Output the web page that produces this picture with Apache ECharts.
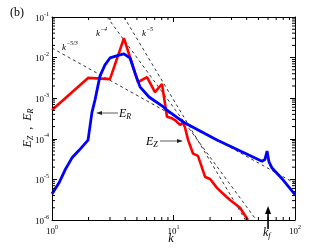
<!DOCTYPE html>
<html><head><meta charset="utf-8">
<script src="https://cdn.jsdelivr.net/npm/echarts@6/dist/echarts.min.js"></script>
<style>html,body{margin:0;padding:0;background:#fff}#c{width:332px;height:249px}</style>
</head><body><div id="c"></div>
<script>
// E_Z (red)
const kZ = [1, 1.98, 3.0, 3.91, 5.1, 6.05, 7.04, 8.04, 8.84, 9.72, 10.3, 11.3, 12.0, 12.4, 13.2, 14.5, 15.9, 18.2, 20.0, 22.8, 25.1, 29.2, 35.3, 41.0];
const EZ = [5.1e-4, 3.16e-3, 2.95e-3, 3.0e-2, 2.5e-3, 3.3e-3, 1.41e-3, 2.24e-3, 3.5e-4, 3.2e-4, 2.9e-4, 2.2e-4, 2.5e-4, 1.95e-4, 9.3e-5, 4.3e-5, 3.8e-5, 1.15e-5, 1.02e-5, 6.2e-6, 4.7e-6, 3.1e-6, 2.0e-6, 1.0e-6];
// E_R (blue)
const kR = [1, 1.14, 1.28, 1.46, 1.67, 1.98, 2.13, 2.26, 2.48, 2.73, 3.0, 3.56, 3.91, 4.39, 4.82, 5.30, 6.29, 8.04, 8.84, 12.0, 22.8, 53.5, 56.6, 58.9, 61.1, 64.7, 79.7, 100];
const ER = [4.4e-6, 8.1e-6, 1.7e-5, 3.4e-5, 5.2e-5, 9.3e-5, 4.4e-4, 9.1e-4, 3.5e-3, 6.6e-3, 9.8e-3, 1.15e-2, 1.23e-2, 9.8e-3, 4.2e-3, 1.9e-3, 1.07e-3, 6.5e-4, 5.1e-4, 2.6e-4, 9.3e-5, 2.8e-5, 3.1e-5, 5.0e-5, 2.7e-5, 1.9e-5, 9.8e-6, 4.2e-6];
// reference slopes
const ref53K = [1, 100], ref53E = [1.72e-2, 8.0e-6];
const ref4K = [2.84, 48], ref4E = [1e-1, 1e-6];
const ref5K = [3.91, 39.1], ref5E = [1e-1, 1e-6];
// minor ticks
const xMinor = [2,3,4,5,6,7,8,9,20,30,40,50,60,70,80,90];
const yMinor = [];
[-6,-5,-4,-3,-2].forEach(e => { for (let m = 2; m <= 9; m++) yMinor.push(m * Math.pow(10, e)); });
const kf = 60;

const FONT = 'Liberation Serif';
const zip = (a, b) => a.map((v, i) => [v, b[i]]);
const supFmt = v => '{b|10}{s|' + Math.round(Math.log10(v)) + '}';
const tickRich = { b: { fontSize: 9, fontFamily: FONT, color: '#000', verticalAlign: 'bottom', lineHeight: 12 }, s: { fontSize: 6, fontFamily: FONT, color: '#000', verticalAlign: 'top', lineHeight: 12 } };

const chart = echarts.init(document.getElementById('c'), null, { renderer: 'canvas' });
const axisCommon = { axisLine: { lineStyle: { color: '#000', width: 1 } }, axisTick: { inside: true, length: 5, lineStyle: { color: '#000' } }, splitLine: { show: false } };
const dash = { color: '#000', width: 0.8, type: [3, 3] };
chart.setOption({
  animation: false,
  grid: { left: 52, right: 37, top: 17, bottom: 29 },
  xAxis: [
    Object.assign({ type: 'log', min: 1, max: 100, position: 'bottom', axisLabel: { formatter: supFmt, rich: tickRich, margin: 4 } }, axisCommon),
    Object.assign({ type: 'log', min: 1, max: 100, position: 'top', axisLabel: { show: false } }, axisCommon)
  ],
  yAxis: [
    Object.assign({ type: 'log', min: 1e-6, max: 1e-1, position: 'left', axisLabel: { formatter: supFmt, rich: tickRich, margin: 3 } }, axisCommon),
    Object.assign({ type: 'log', min: 1e-6, max: 1e-1, position: 'right', axisLabel: { show: false } }, axisCommon)
  ],
  series: [
    { type: 'line', data: zip(ref53K, ref53E), symbol: 'none', lineStyle: dash, z: 1 },
    { type: 'line', data: zip(ref4K, ref4E), symbol: 'none', lineStyle: dash, z: 1 },
    { type: 'line', data: zip(ref5K, ref5E), symbol: 'none', lineStyle: dash, z: 1 },
    { type: 'line', data: zip(kZ, EZ), symbol: 'none', lineStyle: { color: '#ff0000', width: 2.6 }, z: 3 },
    { type: 'line', data: zip(kR, ER), symbol: 'none', lineStyle: { color: '#0000ff', width: 2.8 }, z: 4 },
    {
      type: 'custom', silent: true, clip: false, z: 5,
      data: xMinor.map(v => [v, 1e-6]),
      renderItem: (p, api) => {
        const b = api.coord([api.value(0), 1e-6]);
        const t = api.coord([api.value(0), 1e-1]);
        return { type: 'group', children: [
          { type: 'line', shape: { x1: b[0], y1: b[1], x2: b[0], y2: b[1] - 3 }, style: { stroke: '#000', lineWidth: 1 } },
          { type: 'line', shape: { x1: t[0], y1: t[1], x2: t[0], y2: t[1] + 3 }, style: { stroke: '#000', lineWidth: 1 } }
        ] };
      }
    },
    {
      type: 'custom', silent: true, clip: false, z: 5,
      data: yMinor.map(v => [1, v]),
      renderItem: (p, api) => {
        const l = api.coord([1, api.value(1)]);
        const r = api.coord([100, api.value(1)]);
        return { type: 'group', children: [
          { type: 'line', shape: { x1: l[0], y1: l[1], x2: l[0] + 3, y2: l[1] }, style: { stroke: '#000', lineWidth: 1 } },
          { type: 'line', shape: { x1: r[0], y1: r[1], x2: r[0] - 3, y2: r[1] }, style: { stroke: '#000', lineWidth: 1 } }
        ] };
      }
    }
  ]
});

const it = { fontFamily: FONT, fontStyle: 'italic', color: '#222' };
const richLbl = {
  i: Object.assign({ fontSize: 9, verticalAlign: 'bottom', lineHeight: 12 }, it),
  s: Object.assign({ fontSize: 6, verticalAlign: 'top', lineHeight: 12 }, it),
  I: Object.assign({ fontSize: 12, verticalAlign: 'middle', lineHeight: 14 }, it, { color: '#000' }),
  S: Object.assign({ fontSize: 8, verticalAlign: 'bottom', lineHeight: 14 }, it, { color: '#000' })
};
const txt = (x, y, text, extra) => Object.assign({ type: 'text', x: x, y: y, z: 10, style: Object.assign({ text: text, rich: richLbl, align: 'left', verticalAlign: 'middle' }, extra || {}) });
const kfPx = chart.convertToPixel({ xAxisIndex: 0 }, kf);
chart.setOption({
  graphic: [
    { type: 'text', x: 10, y: 13, style: { text: '(b)', fontFamily: FONT, fontSize: 12, fill: '#000', verticalAlign: 'middle' } },
    txt(62, 46, '{i|k}{s|−5/3}'),
    txt(96, 32, '{i|k}{s|−4}'),
    txt(142, 32, '{i|k}{s|−5}'),
    txt(119, 114, '{I|E}{S|R}'),
    txt(146, 142, '{I|E}{S|Z}'),
    txt(263, 233, '{I|k}{S|f}'),
    txt(171, 239, '{I|k}', { align: 'center' }),
    { type: 'text', x: 28, y: 128, rotation: Math.PI / 2, z: 10, style: { text: '{I|E}{S|Z}{I|  ,  }{I|E}{S|R}', rich: richLbl, align: 'center', verticalAlign: 'middle' } },
    { type: 'line', z: 10, shape: { x1: 118, y1: 113, x2: 100, y2: 113 }, style: { stroke: '#333', lineWidth: 0.8 } },
    { type: 'polygon', z: 10, shape: { points: [[96, 113], [102, 111], [102, 115]] }, style: { fill: '#222' } },
    { type: 'line', z: 10, shape: { x1: 160, y1: 141, x2: 179, y2: 141 }, style: { stroke: '#333', lineWidth: 0.8 } },
    { type: 'polygon', z: 10, shape: { points: [[183, 141], [177, 139], [177, 143]] }, style: { fill: '#222' } },
    { type: 'line', z: 10, shape: { x1: kfPx, y1: 229, x2: kfPx, y2: 212 }, style: { stroke: '#000', lineWidth: 1.6 } },
    { type: 'polygon', z: 10, shape: { points: [[kfPx, 206], [kfPx - 3, 214], [kfPx + 3, 214]] }, style: { fill: '#000' } }
  ]
});
</script>
</body></html>
